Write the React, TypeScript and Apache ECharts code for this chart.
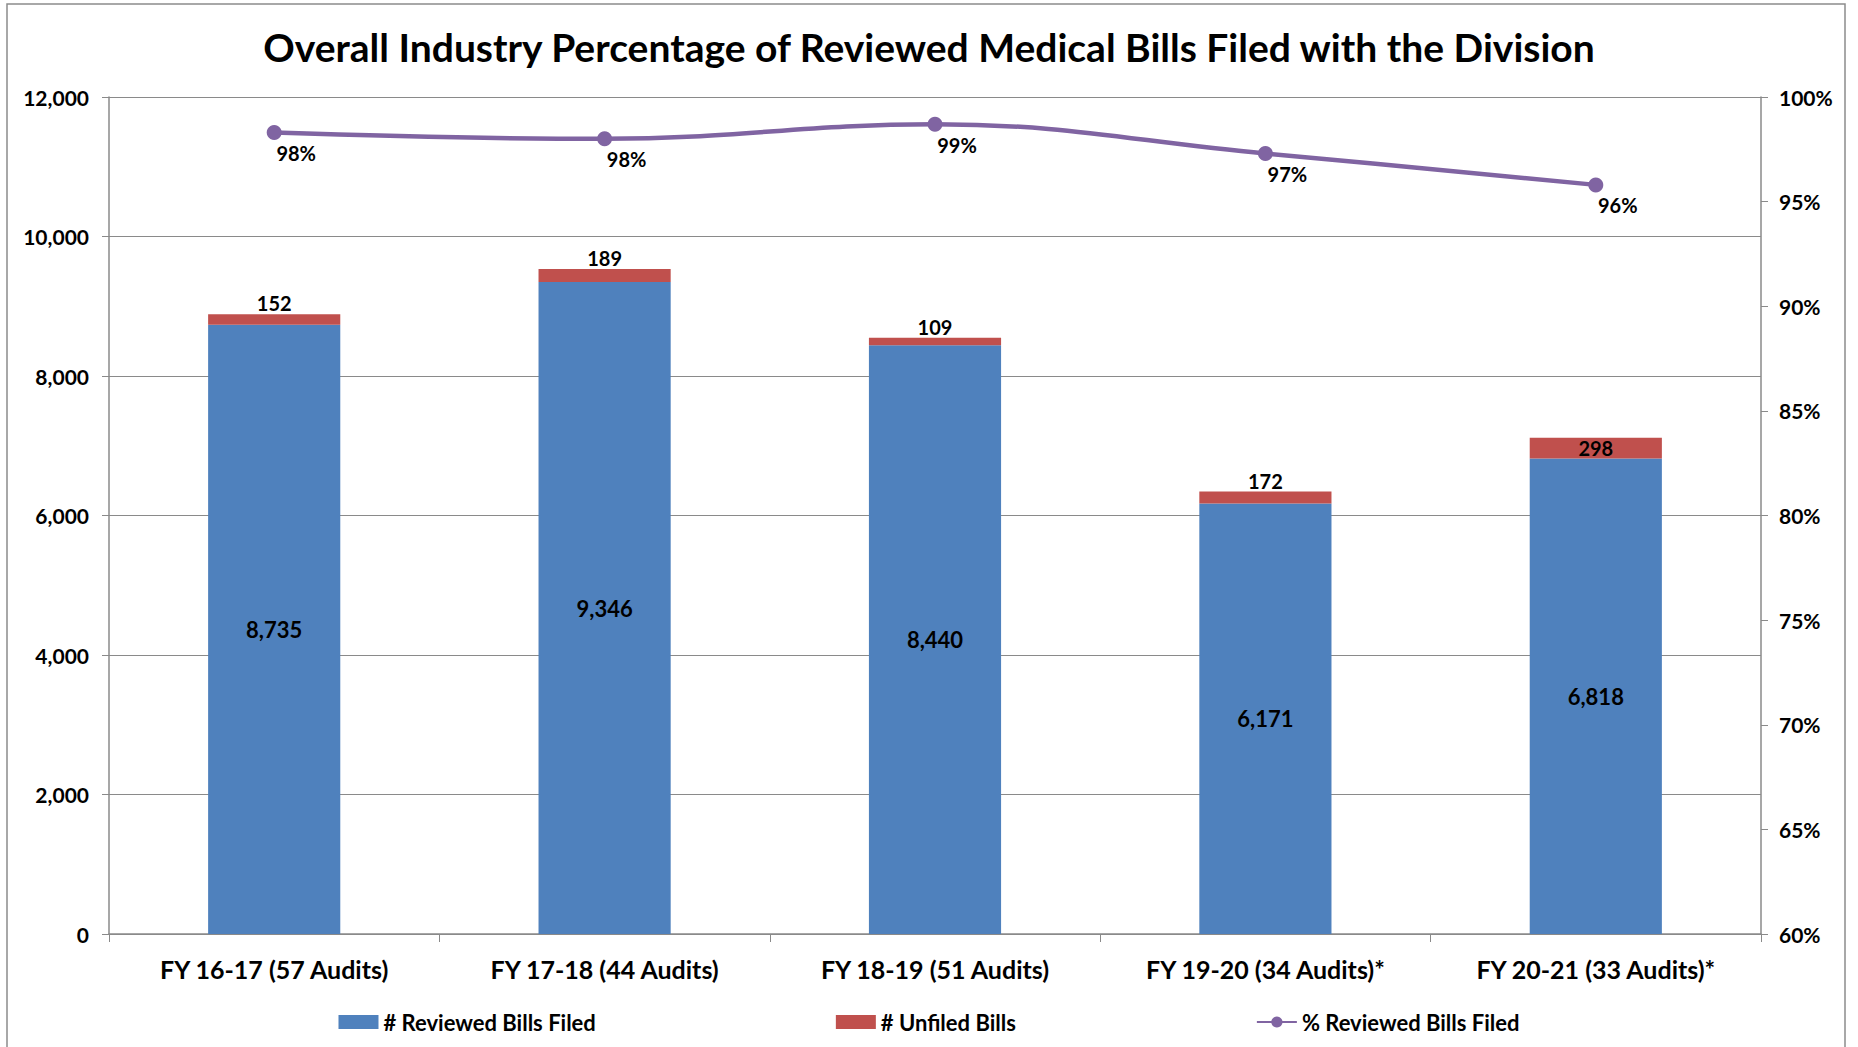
import React, { useEffect, useRef } from "react";
import * as echarts from "echarts";

const categories = [
  "FY 16-17 (57 Audits)",
  "FY 17-18 (44 Audits)",
  "FY 18-19 (51 Audits)",
  "FY 19-20 (34 Audits)*",
  "FY 20-21 (33 Audits)*",
];
const reviewedBills = [8735, 9346, 8440, 6171, 6818];
const unfiledBills = [152, 189, 109, 172, 298];
const pctReviewed = [98.3, 98.0, 98.7, 97.3, 95.8];
const unfiledLabelInside = [false, false, false, false, true];

const FONT = "Lato, 'Open Sans', 'DejaVu Sans', sans-serif";

export default function App() {
  const ref = useRef<HTMLDivElement>(null);
  useEffect(() => {
    if (!ref.current) return;
    const chart = echarts.init(ref.current, undefined, { renderer: "svg" });
    const axisColor = "#8a8a8a";
    chart.setOption({
      animation: false,
      backgroundColor: "#ffffff",
      textStyle: { fontFamily: FONT },
      title: {
        text: "Overall Industry Percentage of Reviewed Medical Bills Filed with the Division",
        left: "center",
        top: 22,
        textStyle: { fontFamily: FONT, fontWeight: "bold", fontSize: 39, color: "#000" },
      },
      graphic: [
        {
          type: "rect",
          shape: { x: 7, y: 4, width: 1838, height: 1070 },
          style: { fill: "none", stroke: "#8c8c8c", lineWidth: 1.5 },
          silent: true,
        },
      ],
      grid: { left: 109, right: 97, top: 97, bottom: 113, containLabel: false },
      legend: {
        top: 1006,
        left: "center",
        itemGap: 240,
        itemWidth: 40,
        itemHeight: 14,
        textStyle: { fontFamily: FONT, fontWeight: "bold", fontSize: 22, color: "#000" },
        data: [
          { name: "# Reviewed Bills Filed", icon: "rect" },
          { name: "# Unfiled Bills", icon: "rect" },
          { name: "% Reviewed Bills Filed" },
        ],
      },
      xAxis: {
        type: "category",
        data: categories,
        boundaryGap: true,
        axisLine: { lineStyle: { color: axisColor, width: 1.5 } },
        axisTick: { show: true, alignWithLabel: false, length: 8, lineStyle: { color: axisColor } },
        axisLabel: {
          fontFamily: FONT,
          fontWeight: "bold",
          fontSize: 25,
          color: "#000",
          margin: 22,
          interval: 0,
        },
      },
      yAxis: [
        {
          type: "value",
          min: 0,
          max: 12000,
          interval: 2000,
          axisLine: { show: true, lineStyle: { color: axisColor, width: 1.5 } },
          axisTick: { show: true, length: 7, lineStyle: { color: axisColor } },
          splitLine: { show: true, lineStyle: { color: axisColor, width: 1.2 } },
          axisLabel: {
            fontFamily: FONT,
            fontWeight: "bold",
            fontSize: 21,
            color: "#000",
            margin: 20,
            formatter: (v: number) => v.toLocaleString("en-US"),
          },
        },
        {
          type: "value",
          min: 60,
          max: 100,
          interval: 5,
          position: "right",
          axisLine: { show: true, lineStyle: { color: axisColor, width: 1.5 } },
          axisTick: { show: true, length: 7, lineStyle: { color: axisColor } },
          splitLine: { show: false },
          axisLabel: {
            fontFamily: FONT,
            fontWeight: "bold",
            fontSize: 21,
            color: "#000",
            margin: 18,
            formatter: "{value}%",
          },
        },
      ],
      series: [
        {
          name: "# Reviewed Bills Filed",
          type: "bar",
          stack: "bills",
          barWidth: "40%",
          itemStyle: { color: "#4F81BD" },
          label: {
            show: true,
            position: "inside",
            fontFamily: FONT,
            fontWeight: "bold",
            fontSize: 22,
            color: "#000",
            formatter: (p: any) => Number(p.value).toLocaleString("en-US"),
          },
          data: reviewedBills,
        },
        {
          name: "# Unfiled Bills",
          type: "bar",
          stack: "bills",
          barWidth: "40%",
          itemStyle: { color: "#C0504D" },
          label: {
            show: true,
            position: "top",
            distance: 1,
            fontFamily: FONT,
            fontWeight: "bold",
            fontSize: 20,
            color: "#000",
          },
          data: unfiledBills.map((v, i) =>
            unfiledLabelInside[i] ? { value: v, label: { position: "inside" } } : v
          ),
        },
        {
          name: "% Reviewed Bills Filed",
          type: "line",
          yAxisIndex: 1,
          smooth: 0.4,
          symbol: "circle",
          symbolSize: 15,
          lineStyle: { color: "#8064A2", width: 4.5 },
          itemStyle: { color: "#8064A2" },
          label: {
            show: true,
            position: "bottom",
            distance: 3,
            offset: [22, 0],
            fontFamily: FONT,
            fontWeight: "bold",
            fontSize: 20,
            color: "#000",
            formatter: (p: any) => Math.round(p.value) + "%",
          },
          data: pctReviewed,
        },
      ],
    });
    return () => chart.dispose();
  }, []);
  return (
    <div
      ref={ref}
      style={{ position: "fixed", left: 0, top: 0, width: 1858, height: 1047 }}
    />
  );
}
